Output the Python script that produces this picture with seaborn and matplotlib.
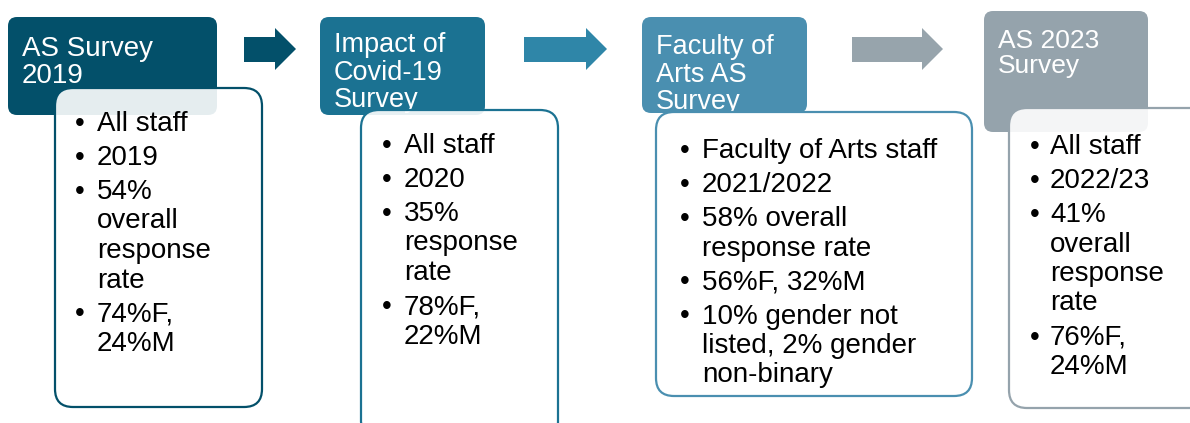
import matplotlib
matplotlib.use("Agg")
import matplotlib.pyplot as plt
import seaborn as sns
from matplotlib.patches import FancyBboxPatch, Polygon

# stages of the survey timeline
titles = ["AS Survey\n2019", "Impact of\nCovid-19\nSurvey", "Faculty of\nArts AS\nSurvey", "AS 2023\nSurvey"]
bullets = [
    ["All staff", "2019", "54%\noverall\nresponse\nrate", "74%F,\n24%M"],
    ["All staff", "2020", "35%\nresponse\nrate", "78%F,\n22%M"],
    ["Faculty of Arts staff", "2021/2022", "58% overall\nresponse rate", "56%F, 32%M",
     "10% gender not\nlisted, 2% gender\nnon-binary"],
    ["All staff", "2022/23", "41%\noverall\nresponse\nrate", "76%F,\n24%M"],
]
header_colors = ["#03506a", "#1b7292", "#4a8fb0", "#95a3ac"]
arrow_colors = ["#03506a", "#2f86a8", "#97a4ac"]

# layout in pixels (axes is 1 unit = 1 px, y pointing down)
header_boxes = [(8, 17, 209, 98), (320, 17, 165, 98), (642, 17, 165, 96), (984, 11, 164, 121)]
body_boxes = [(55, 88, 207, 319), (361, 110, 197, 330), (656, 112, 316, 284), (1009, 108, 200, 300)]
arrow_spans = [(244, 296), (524, 607), (852, 943)]
title_sizes = [20, 19.5, 19.5, 19]
title_first_base = [56, 52, 54, 48]
title_step = [27, 27.5, 27.5, 25.5]
bullet_x = [80, 387, 685, 1035]
text_x = [97, 404, 702, 1050]
body_first_base = [131, 153, 158, 154]
body_size = 20
line_step = 29.5
item_gap = 4.5

sns.set_theme(style="white")
plt.rcParams["font.family"] = ["Liberation Sans", "DejaVu Sans"]

fig = plt.figure(figsize=(11.9, 4.23), dpi=100)
ax = fig.add_axes([0, 0, 1, 1])
ax.set_xlim(0, 1190)
ax.set_ylim(423, 0)
ax.axis("off")

for i in range(len(titles)):
    hx, hy, hw, hh = header_boxes[i]
    ax.add_patch(FancyBboxPatch((hx, hy), hw, hh, boxstyle="round,pad=0,rounding_size=9",
                                facecolor=header_colors[i], edgecolor="none", zorder=1))
    for j, line in enumerate(titles[i].split("\n")):
        ax.text(hx + 14, title_first_base[i] + j * title_step[i], line, color="white",
                fontsize=title_sizes[i], va="baseline", ha="left", zorder=2)

    bx, by, bw, bh = body_boxes[i]
    ax.add_patch(FancyBboxPatch((bx, by), bw, bh, boxstyle="round,pad=0,rounding_size=18",
                                facecolor="white", alpha=0.9, edgecolor="none", zorder=3))
    ax.add_patch(FancyBboxPatch((bx, by), bw, bh, boxstyle="round,pad=0,rounding_size=18",
                                facecolor="none", edgecolor=header_colors[i], linewidth=1.6, zorder=4))
    y = body_first_base[i]
    for item in bullets[i]:
        ax.text(bullet_x[i], y, "\u2022", fontsize=body_size, color="black", ha="center",
                va="baseline", zorder=5)
        for line in item.split("\n"):
            ax.text(text_x[i], y, line, fontsize=body_size, color="black", ha="left",
                    va="baseline", zorder=5)
            y += line_step
        y += item_gap

# arrows between the header boxes
for (left, right), c in zip(arrow_spans, arrow_colors):
    head = right - 21
    pts = [(left, 37), (head, 37), (head, 28), (right, 49), (head, 70), (head, 62), (left, 62)]
    ax.add_patch(Polygon(pts, closed=True, facecolor=c, edgecolor="none", zorder=1))

fig.savefig("out.png", dpi=100)
